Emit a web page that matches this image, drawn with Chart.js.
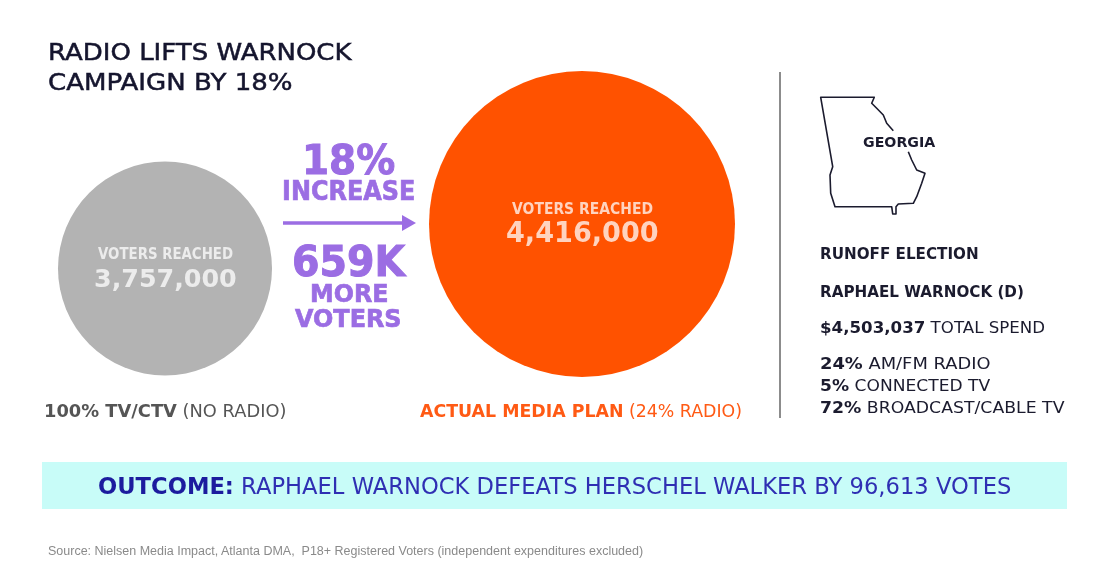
<!DOCTYPE html>
<html>
<head>
<meta charset="utf-8">
<script src="https://cdn.jsdelivr.net/npm/chart.js@4.4.1/dist/chart.umd.min.js"></script>
<style>
html, body { margin: 0; background: #fff; }
#wrap { position: relative; width: 1108px; height: 574px; overflow: hidden; font-family: "DejaVu Sans", sans-serif; }
#c { position: absolute; left: 0; top: 0; }
.t { position: absolute; white-space: nowrap; line-height: 1; transform-origin: 0 0; }
</style>
</head>
<body>
<div id="wrap">
  <div style="position:absolute;left:42px;top:462px;width:1025px;height:47px;background:#c8fcf8"></div>
  <div style="position:absolute;left:779px;top:72px;width:1.5px;height:346px;background:#8c8c8c"></div>
  <svg width="1108" height="574" style="position:absolute;left:0;top:0">
    <!-- arrow between circles -->
    <line x1="283" y1="223" x2="405" y2="223" stroke="#9b6de3" stroke-width="3.5"/>
    <polygon points="402,215 416,223 402,231" fill="#9b6de3"/>
    <!-- georgia outline -->
    <polyline fill="none" stroke="#1b1b2e" stroke-width="1.6" stroke-linejoin="round"
      points="893.3,130.7 886.7,123.3 883.3,115 876.7,108.3 871.7,103.3 874.3,97.3 820.7,97.3 832.7,166.7 830,175 830.7,193.3 835,206.7 891.7,206.7 892.7,214 896,214 896,206.7 898.3,204 913.3,203.3 916.7,196.7 921.7,183.3 925,173.3 916.7,170 911.7,160 908.3,151.7"/>
  </svg>
  <canvas id="c" width="1108" height="574"></canvas>
</div>
<script>
const plans = ['100% TV/CTV', 'ACTUAL MEDIA PLAN'];
const planNotes = ['(NO RADIO)', '(24% RADIO)'];
const votersReached = [3757000, 4416000];
const mixShares = [24, 5, 72];
const mixChannels = ['AM/FM RADIO', 'CONNECTED TV', 'BROADCAST/CABLE TV'];
const totalSpend = 4503037;
const marginVotes = 96613;

const wrap = document.getElementById('wrap');
const fmt = v => v.toLocaleString('en-US');

function txt(html, x, base, size, w, color, bold, extra) {
    const d = document.createElement('div');
    d.className = 't';
    d.innerHTML = html;
    d.style.left = x + 'px';
    d.style.top = (base - 0.846 * size) + 'px';
    d.style.fontSize = size + 'px';
    d.style.color = color;
    if (bold) d.style.fontWeight = 'bold';
    if (extra) d.style.cssText += extra;
    wrap.appendChild(d);
    if (w) d.style.transform = 'scaleX(' + (w / d.offsetWidth) + ')';
    return d;
}

// title
const heavy = s => '-webkit-text-stroke:' + s + 'px currentColor;';
txt('RADIO LIFTS WARNOCK', 48, 60.5, 23.5, 304, '#15152e', false, heavy(0.5));
txt('CAMPAIGN BY 18%', 48, 90.5, 23.5, 245, '#15152e', false, heavy(0.5));

// increase between the two plans
const gain = votersReached[1] - votersReached[0];
const purple = '#9b6de3';
txt(Math.round(gain / votersReached[0] * 100) + '%', 302, 175, 41, 93, purple, true, heavy(1));
txt('INCREASE', 282, 200, 27, 133, purple, true, heavy(0.7));
txt(Math.round(gain / 1000) + 'K', 292, 276.7, 43, 113, purple, true, heavy(1));
txt('MORE', 310, 301.7, 25, 78, purple, true, heavy(0.7));
txt('VOTERS', 295, 326.7, 25, 107, purple, true, heavy(0.7));

// labels under circles
txt('<b>' + plans[0] + '</b> ' + planNotes[0], 44, 418, 18.5, 242, '#555555');
txt('<b>' + plans[1] + '</b> ' + planNotes[1], 420, 418, 18.5, 322, '#ff5a14');

// right panel
const ink = '#1b1b2e';
txt('GEORGIA', 863, 147.3, 14, 72, ink, true);
txt('RUNOFF ELECTION', 820, 260, 16.5, 159, ink, true);
txt('RAPHAEL WARNOCK (D)', 820, 298, 16.5, 204, ink, true);
txt('<b>$' + fmt(totalSpend) + '</b> TOTAL SPEND', 820, 334, 16.5, 225, ink);
const mixW = [170, 170, 245];
const mixBase = [370, 392, 414];
mixShares.forEach((s, i) => {
    txt('<b>' + s + '%</b> ' + mixChannels[i], 820, mixBase[i], 16.5, mixW[i], ink);
});

// outcome + source
txt('<b style="color:#1c1c9e">OUTCOME:</b> RAPHAEL WARNOCK DEFEATS HERSCHEL WALKER BY ' + fmt(marginVotes) + ' VOTES',
    98, 494.5, 23, 913, '#2f2fb3');
txt('Source: Nielsen Media Impact, Atlanta DMA,&nbsp; P18+ Registered Voters (independent expenditures excluded)',
    48, 555.7, 12.5, 595, '#8a8a8a', false, 'font-family:"Liberation Sans",sans-serif;');

// bubble size scale: smallest value -> 107px, largest -> 153px
const vMin = Math.min(...votersReached), vMax = Math.max(...votersReached);
const bubbleR = v => 107 + (v - vMin) * (153 - 107) / (vMax - vMin);

const circleLabels = {
    id: 'circleLabels',
    afterDraw(chart) {
        if (chart.$labelled) return;
        chart.$labelled = true;
        const meta = chart.getDatasetMeta(0);
        const textCol = ['#ececec', '#ffd3bf'];
        meta.data.forEach((pt, i) => {
            const r = bubbleR(votersReached[i]);
            const lw = 135 + (r - 107) * 0.13;
            const nw = 143 + (r - 107) * 0.2;
            const ns = 25 + (r - 107) * 0.08;
            txt('VOTERS REACHED', pt.x - lw / 2, pt.y - 9, 16.5, lw, textCol[i], true);
            txt(fmt(votersReached[i]), pt.x - nw / 2, pt.y + 18.7, ns, nw, textCol[i], true);
        });
    }
};

const ctx = document.getElementById('c').getContext('2d');
const myChart = new Chart(ctx, {
    type: 'bubble',
    data: {
        datasets: [{
            data: plans.map((p, i) => ({ x: p, y: votersReached[i], r: bubbleR(votersReached[i]) })),
            backgroundColor: ['#b3b3b3', '#ff5200'],
            borderWidth: 0,
            clip: false
        }]
    },
    options: {
        responsive: false,
        animation: false,
        events: [],
        layout: { padding: { left: 165, right: 526, top: 224, bottom: 305.5 } },
        scales: {
            x: { type: 'category', labels: plans, offset: false, display: false },
            y: { min: vMin, max: vMax, display: false }
        },
        plugins: {
            legend: { display: false },
            tooltip: { enabled: false }
        }
    },
    plugins: [circleLabels]
});
</script>
</body>
</html>
